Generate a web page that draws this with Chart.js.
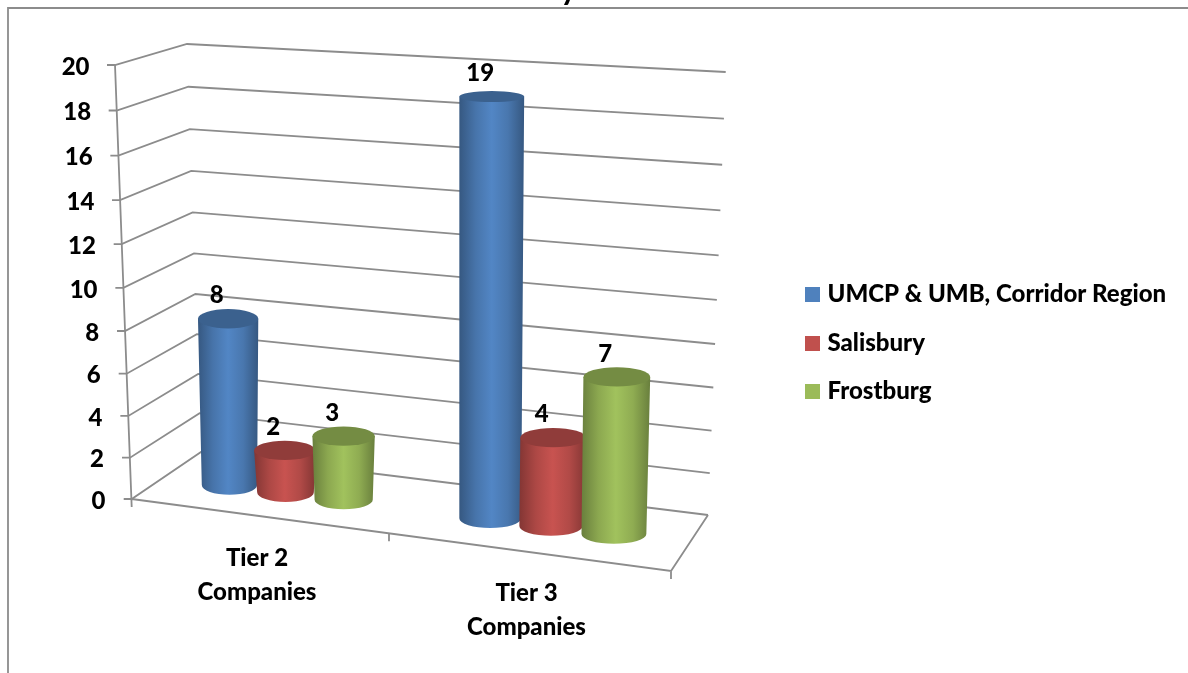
<!DOCTYPE html>
<html>
<head>
<meta charset="utf-8">
<script src="https://cdn.jsdelivr.net/npm/chart.js@4"></script>
<style>
html, body { margin: 0; padding: 0; background: #fff; }
canvas { display: block; }
</style>
</head>
<body>
<canvas id="tierChart" width="1188" height="673"></canvas>
<script>
var categories = [['Tier 2', 'Companies'], ['Tier 3', 'Companies']];
var seriesNames = ['UMCP & UMB, Corridor Region', 'Salisbury', 'Frostburg'];
var umcpValues = [8, 19];
var salisburyValues = [2, 4];
var frostburgValues = [3, 7];
var seriesColors = ['#4f81bd', '#c0504d', '#9bbb59'];
var titleText = 'by Location';

var boldFont = '900 24px Lato';
var gridColor = '#8c8c8c';

// wall corners of the fake 3d box, y goes with the value axis
var frontLeft = {x0: 131.7, x20: 115, y0: 499, y20: 65, bow: 23.3};
var backLeft = {x0: 201, x20: 187, y0: 452, y20: 44, bow: 21.6};
var backRight = {x0: 708, x20: 725.7, y0: 515, y20: 72, bow: 25.8};
var floorTilt = 0.1276;

function wallPoint(corner, scale, value) {
    var t = (scale.bottom - scale.getPixelForValue(value)) / (scale.bottom - scale.top);
    return {
        x: corner.x0 + (corner.x20 - corner.x0) * t,
        y: corner.y0 + (corner.y20 - corner.y0) * t + corner.bow * t * (1 - t)
    };
}

function shade(hex, f) {
    var r = parseInt(hex.substr(1, 2), 16) * f;
    var g = parseInt(hex.substr(3, 2), 16) * f;
    var b = parseInt(hex.substr(5, 2), 16) * f;
    return 'rgb(' + Math.round(r) + ',' + Math.round(g) + ',' + Math.round(b) + ')';
}

function makeSwatch(color) {
    var c = document.createElement('canvas');
    c.width = 15;
    c.height = 15;
    var g = c.getContext('2d');
    g.fillStyle = color;
    g.fillRect(0, 0, 15, 15);
    return c;
}

//----------------cylinder-------------
function drawCylinder(ctx, bar, center, color, label) {
    var spread = 1 + (bar.x - 418) * 0.0003;
    var baseX = center + (bar.x - center) * spread;
    var baseY = bar.base - 14 + floorTilt * (baseX - 229);
    var depth = (baseX - 229) / 384;
    var baseW = bar.width * (0.93 + 0.16 * depth);
    var topW = baseW * (1.09 - 0.06 * depth);
    var h = (bar.base - bar.y) * (0.95 + 0.0002 * (baseX - 229));
    h += 0.00005 * h * h;
    var topX = baseX + 0.011 * (baseX - 350);
    var topY = baseY - h;
    var ry = 9.7;
    var topRy = Math.min(9.7, 3.7 + topY * 0.0188);
    var left = Math.min(baseX - baseW / 2, topX - topW / 2);
    var right = Math.max(baseX + baseW / 2, topX + topW / 2);

    var grad = ctx.createLinearGradient(left, 0, right, 0);
    grad.addColorStop(0, shade(color, 0.68));
    grad.addColorStop(0.25, shade(color, 0.9));
    grad.addColorStop(0.5, shade(color, 1.04));
    grad.addColorStop(0.75, shade(color, 0.92));
    grad.addColorStop(1, shade(color, 0.68));

    ctx.beginPath();
    ctx.moveTo(topX - topW / 2, topY);
    ctx.lineTo(baseX - baseW / 2, baseY);
    ctx.ellipse(baseX, baseY, baseW / 2, ry, 0, Math.PI, 0, true);
    ctx.lineTo(topX + topW / 2, topY);
    ctx.closePath();
    ctx.fillStyle = grad;
    ctx.fill();

    ctx.beginPath();
    ctx.ellipse(topX, topY, topW / 2, topRy, 0, 0, Math.PI * 2);
    ctx.fillStyle = shade(color, 0.75);
    ctx.fill();

    ctx.fillStyle = '#000';
    ctx.font = boldFont;
    ctx.textAlign = 'center';
    ctx.textBaseline = 'middle';
    ctx.fillText(label, topX - 11.5, topY - 23);
}

var wallPlugin = {
    id: 'wall',
    afterLayout: function(chart) {
        var l = chart.legend;
        l.left = 785;
        l.right = l.left + l.width;
        l.top = 258;
        l.bottom = l.top + l.height;
    },
    beforeDatasetDraw: function() {
        return false;
    },
    beforeDatasetsDraw: function(chart) {
        var ctx = chart.ctx;
        var yScale = chart.scales.y;
        var xScale = chart.scales.x;
        ctx.save();

        // frame and the cut off title
        ctx.strokeStyle = gridColor;
        ctx.lineWidth = 1.8;
        ctx.beginPath();
        ctx.moveTo(8, 673);
        ctx.lineTo(8, 8);
        ctx.lineTo(1188, 8);
        ctx.stroke();
        ctx.fillStyle = '#000';
        ctx.font = '900 29px Lato';
        ctx.textAlign = 'center';
        ctx.textBaseline = 'alphabetic';
        ctx.fillText(titleText, 620, 0.4);

        // gridlines along both walls
        yScale.ticks.forEach(function(tick) {
            var a = wallPoint(frontLeft, yScale, tick.value);
            var b = wallPoint(backLeft, yScale, tick.value);
            var c = wallPoint(backRight, yScale, tick.value);
            ctx.beginPath();
            ctx.moveTo(a.x - 8, a.y);
            ctx.lineTo(a.x, a.y);
            ctx.lineTo(b.x, b.y);
            ctx.lineTo(c.x, c.y);
            ctx.stroke();
            ctx.fillStyle = '#000';
            ctx.font = boldFont;
            ctx.textAlign = 'right';
            ctx.textBaseline = 'middle';
            ctx.fillText(tick.label, 105.5 - 0.8 * tick.value, a.y + 2);
        });

        // left axis and floor
        var top = wallPoint(frontLeft, yScale, 20);
        var zero = wallPoint(frontLeft, yScale, 0);
        var corner = wallPoint(backRight, yScale, 0);
        var frontX = 671;
        var frontY = 571;
        ctx.beginPath();
        ctx.moveTo(top.x, top.y);
        ctx.lineTo(zero.x, zero.y + 8);
        ctx.moveTo(zero.x, zero.y);
        ctx.lineTo(frontX, frontY);
        ctx.lineTo(corner.x, corner.y);
        ctx.moveTo(frontX, frontY);
        ctx.lineTo(frontX, frontY + 8);
        var midX = 389;
        var midY = zero.y + (frontY - zero.y) * (midX - zero.x) / (frontX - zero.x);
        ctx.moveTo(midX, midY);
        ctx.lineTo(midX, midY + 8);
        ctx.stroke();

        // category labels sit on the tilted floor
        ctx.fillStyle = '#000';
        ctx.font = boldFont;
        ctx.textAlign = 'center';
        ctx.textBaseline = 'middle';
        categories.forEach(function(lines, i) {
            var x = xScale.getPixelForValue(i);
            var y = 558 + 0.132 * (x - 285.5);
            lines.forEach(function(line, n) {
                ctx.fillText(line, x - 24.5 - 4 * (1 - i), y + n * 34);
            });
        });
        ctx.restore();
    },
    afterDatasetsDraw: function(chart) {
        var ctx = chart.ctx;
        var xScale = chart.scales.x;
        ctx.save();
        chart.data.datasets.forEach(function(ds, d) {
            chart.getDatasetMeta(d).data.forEach(function(bar, i) {
                drawCylinder(ctx, bar, xScale.getPixelForValue(i), seriesColors[d], String(ds.data[i]));
            });
        });
        ctx.restore();
    }
};

var ctxTier = document.getElementById('tierChart');
var chartTier = new Chart(ctxTier, {
    type: 'bar',
    data: {
        labels: categories,
        datasets: [
            {label: seriesNames[0], data: umcpValues, backgroundColor: seriesColors[0]},
            {label: seriesNames[1], data: salisburyValues, backgroundColor: seriesColors[1]},
            {label: seriesNames[2], data: frostburgValues, backgroundColor: seriesColors[2]}
        ]
    },
    options: {
        responsive: false,
        animation: false,
        categoryPercentage: 0.672,
        barPercentage: 1,
        layout: {padding: {left: 152.75, right: 504.25, top: 65, bottom: 174}},
        scales: {
            x: {display: false},
            y: {display: false, min: 0, max: 20, ticks: {stepSize: 2}}
        },
        plugins: {
            title: {display: false},
            tooltip: {enabled: false},
            legend: {
                position: 'chartArea',
                align: 'start',
                labels: {
                    color: '#000',
                    font: {family: 'Lato', size: 24, weight: '900'},
                    usePointStyle: true,
                    boxWidth: 6,
                    padding: 24.5,
                    generateLabels: function(chart) {
                        var items = Chart.defaults.plugins.legend.labels.generateLabels(chart);
                        items.forEach(function(item, i) {
                            item.pointStyle = makeSwatch(seriesColors[i]);
                        });
                        return items;
                    }
                }
            }
        }
    },
    plugins: [wallPlugin]
});
</script>
</body>
</html>
